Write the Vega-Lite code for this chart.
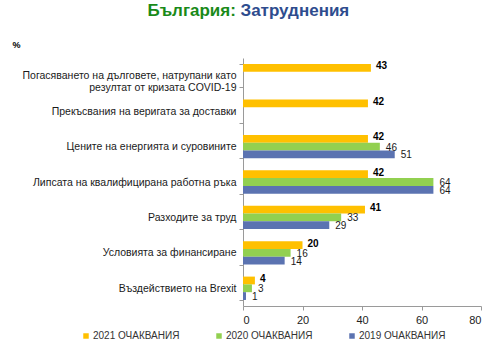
{
  "$schema": "https://vega.github.io/schema/vega-lite/v6.json",
  "width": 238,
  "height": 248,
  "autosize": {"type": "none"},
  "padding": {"left": 243, "top": 58, "right": 19, "bottom": 39},
  "background": "white",
  "config": {"font": "Liberation Sans", "view": {"stroke": null}},
  "data": {
    "values": [
      {"category": "Погасяването на дълговете, натрупани като резултат от кризата COVID-19", "series": "2021 ОЧАКВАНИЯ", "value": 43},
      {"category": "Прекъсвания на веригата за доставки", "series": "2021 ОЧАКВАНИЯ", "value": 42},
      {"category": "Цените на енергията и суровините", "series": "2021 ОЧАКВАНИЯ", "value": 42},
      {"category": "Цените на енергията и суровините", "series": "2020 ОЧАКВАНИЯ", "value": 46},
      {"category": "Цените на енергията и суровините", "series": "2019 ОЧАКВАНИЯ", "value": 51},
      {"category": "Липсата на квалифицирана работна ръка", "series": "2021 ОЧАКВАНИЯ", "value": 42},
      {"category": "Липсата на квалифицирана работна ръка", "series": "2020 ОЧАКВАНИЯ", "value": 64},
      {"category": "Липсата на квалифицирана работна ръка", "series": "2019 ОЧАКВАНИЯ", "value": 64},
      {"category": "Разходите за труд", "series": "2021 ОЧАКВАНИЯ", "value": 41},
      {"category": "Разходите за труд", "series": "2020 ОЧАКВАНИЯ", "value": 33},
      {"category": "Разходите за труд", "series": "2019 ОЧАКВАНИЯ", "value": 29},
      {"category": "Условията за финансиране", "series": "2021 ОЧАКВАНИЯ", "value": 20},
      {"category": "Условията за финансиране", "series": "2020 ОЧАКВАНИЯ", "value": 16},
      {"category": "Условията за финансиране", "series": "2019 ОЧАКВАНИЯ", "value": 14},
      {"category": "Въздействието на Brexit", "series": "2021 ОЧАКВАНИЯ", "value": 4},
      {"category": "Въздействието на Brexit", "series": "2020 ОЧАКВАНИЯ", "value": 3},
      {"category": "Въздействието на Brexit", "series": "2019 ОЧАКВАНИЯ", "value": 1}
    ]
  },
  "encoding": {
    "yOffset": {
      "field": "series",
      "type": "nominal",
      "sort": ["2021 ОЧАКВАНИЯ", "2020 ОЧАКВАНИЯ", "2019 ОЧАКВАНИЯ"],
      "scale": {"domain": ["2021 ОЧАКВАНИЯ", "2020 ОЧАКВАНИЯ", "2019 ОЧАКВАНИЯ"], "paddingInner": 0, "paddingOuter": 0}
    }
  },
  "layer": [
    {
      "mark": {"type": "bar"},
      "encoding": {
        "y": {
          "field": "category",
          "type": "nominal",
          "sort": [
            "Погасяването на дълговете, натрупани като резултат от кризата COVID-19",
            "Прекъсвания на веригата за доставки",
            "Цените на енергията и суровините",
            "Липсата на квалифицирана работна ръка",
            "Разходите за труд",
            "Условията за финансиране",
            "Въздействието на Brexit"
          ],
          "scale": {"paddingInner": 0.34, "paddingOuter": 0.17},
          "axis": {
            "orient": "left",
            "title": "%",
            "titleAngle": 0,
            "titleX": -231,
            "titleY": -14,
            "titleAlign": "left",
            "titleBaseline": "middle",
            "titleFontSize": 9,
            "titleFontWeight": "bold",
            "titleColor": "#000000",
            "labelFontSize": 10.5,
            "labelColor": "#1a1a1a",
            "labelLimit": 0,
            "labelLineHeight": 11.5,
            "labelPadding": 3,
            "labelExpr": "indexof(datum.label, 'COVID') >= 0 ? ['Погасяването на дълговете, натрупани като', 'резултат от кризата COVID-19'] : datum.label",
            "tickBand": "extent",
            "tickSize": 4,
            "tickColor": "#9a9a9a",
            "domainColor": "#9a9a9a",
            "grid": false
          }
        },
        "x": {
          "field": "value",
          "type": "quantitative",
          "scale": {"domain": [0, 80]},
          "axis": {
            "orient": "bottom",
            "values": [0, 20, 40, 60, 80],
            "title": null,
            "grid": false,
            "labelFontSize": 11,
            "labelColor": "#222222",
            "labelPadding": 4,
            "tickSize": 4,
            "tickColor": "#9a9a9a",
            "domainColor": "#9a9a9a"
          }
        },
        "color": {
          "field": "series",
          "type": "nominal",
          "scale": {
            "domain": ["2021 ОЧАКВАНИЯ", "2020 ОЧАКВАНИЯ", "2019 ОЧАКВАНИЯ"],
            "range": ["#FFC000", "#92D050", "#5B73B1"]
          },
          "legend": {
            "title": null,
            "orient": "none",
            "direction": "horizontal",
            "legendX": -162,
            "legendY": 273,
            "symbolType": "square",
            "symbolSize": 30,
            "symbolStrokeWidth": 0,
            "symbolOffset": 0,
            "labelOffset": 2,
            "labelFontSize": 10,
            "labelColor": "#333333",
            "columnPadding": 34
          }
        }
      }
    },
    {
      "transform": [{"filter": "indexof(datum.series, '2021') == 0"}],
      "mark": {"type": "text", "align": "left", "baseline": "middle", "dx": 5, "dy": -1.5, "fontWeight": "bold", "fontSize": 10, "color": "#000000"},
      "encoding": {
        "text": {"field": "value", "type": "quantitative"},
        "y": {
          "field": "category",
          "type": "nominal",
          "sort": [
            "Погасяването на дълговете, натрупани като резултат от кризата COVID-19",
            "Прекъсвания на веригата за доставки",
            "Цените на енергията и суровините",
            "Липсата на квалифицирана работна ръка",
            "Разходите за труд",
            "Условията за финансиране",
            "Въздействието на Brexit"
          ],
          "axis": null
        },
        "x": {
          "field": "value",
          "type": "quantitative",
          "axis": {
            "orient": "top",
            "labels": false,
            "ticks": false,
            "domain": false,
            "grid": false,
            "title": "Затруднения",
            "titleColor": "#2E4C8E",
            "titleFontSize": 17,
            "titleFontWeight": "bold",
            "titleAngle": 0,
            "titleX": -3,
            "titleY": -43,
            "titleAlign": "left",
            "titleBaseline": "alphabetic"
          }
        }
      }
    },
    {
      "transform": [{"filter": "indexof(datum.series, '2021') != 0"}],
      "mark": {"type": "text", "align": "left", "baseline": "middle", "dx": 6, "dy": 1, "fontSize": 10, "color": "#1a1a1a"},
      "encoding": {
        "text": {"field": "value", "type": "quantitative"},
        "x": {"field": "value", "type": "quantitative", "axis": null},
        "y": {
          "field": "category",
          "type": "nominal",
          "sort": [
            "Погасяването на дълговете, натрупани като резултат от кризата COVID-19",
            "Прекъсвания на веригата за доставки",
            "Цените на енергията и суровините",
            "Липсата на квалифицирана работна ръка",
            "Разходите за труд",
            "Условията за финансиране",
            "Въздействието на Brexit"
          ],
          "axis": {
            "orient": "right",
            "labels": false,
            "ticks": false,
            "domain": false,
            "grid": false,
            "title": "България:",
            "titleColor": "#198A19",
            "titleFontSize": 17,
            "titleFontWeight": "bold",
            "titleAngle": 0,
            "titleX": -334,
            "titleY": -43,
            "titleAlign": "left",
            "titleBaseline": "alphabetic"
          }
        }
      }
    }
  ],
  "resolve": {"axis": {"x": "independent", "y": "independent"}}
}
